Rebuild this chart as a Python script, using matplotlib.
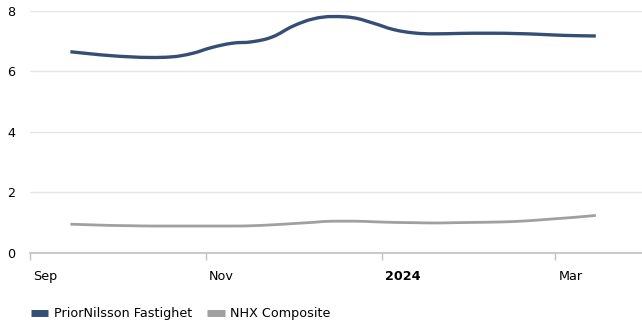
import datetime as dt

import matplotlib
matplotlib.use("Agg")
import matplotlib.pyplot as plt
import matplotlib.dates as mdates
import matplotlib.transforms as mtransforms
from matplotlib.path import Path
from matplotlib.patches import PathPatch
from matplotlib.lines import Line2D

# weekly observations
start = dt.date(2023, 9, 15)
dates = [start + dt.timedelta(days=7 * k) for k in range(27)]
prior_nilsson = [6.64, 6.57, 6.51, 6.47, 6.45, 6.47, 6.58, 6.78, 6.92, 6.97,
                 7.13, 7.48, 7.72, 7.80, 7.76, 7.58, 7.37, 7.26, 7.23, 7.24,
                 7.25, 7.25, 7.24, 7.22, 7.19, 7.17, 7.16]
nhx_composite = [0.95, 0.93, 0.91, 0.90, 0.89, 0.89, 0.89, 0.89, 0.89, 0.90,
                 0.93, 0.97, 1.01, 1.05, 1.05, 1.03, 1.01, 1.00, 0.99, 1.00,
                 1.01, 1.02, 1.04, 1.08, 1.13, 1.18, 1.24]

series_names = ["PriorNilsson Fastighet", "NHX Composite"]
series_colors = ["#344e74", "#a0a0a0"]

tick_dates = [dt.date(2023, 9, 1), dt.date(2023, 11, 1), dt.date(2024, 1, 1), dt.date(2024, 3, 1)]
tick_labels = ["Sep", "Nov", "2024", "Mar"]


def spline_path(xs, ys, smoothing=1.5):
    """Cubic bezier path through the points, with clamped control points."""
    denom = smoothing + 1
    n = len(xs)
    left = [(xs[i], ys[i]) for i in range(n)]
    right = [(xs[i], ys[i]) for i in range(n)]
    for i in range(1, n - 1):
        px, py = xs[i], ys[i]
        lx, ly = xs[i - 1], ys[i - 1]
        nx, ny = xs[i + 1], ys[i + 1]
        lcx = (smoothing * px + lx) / denom
        lcy = (smoothing * py + ly) / denom
        rcx = (smoothing * px + nx) / denom
        rcy = (smoothing * py + ny) / denom
        if rcx != lcx:
            corr = (rcy - lcy) * (rcx - px) / (rcx - lcx) + py - rcy
            lcy += corr
            rcy += corr
        if lcy > ly and lcy > py:
            lcy = max(ly, py)
            rcy = 2 * py - lcy
        elif lcy < ly and lcy < py:
            lcy = min(ly, py)
            rcy = 2 * py - lcy
        if rcy > ny and rcy > py:
            rcy = max(ny, py)
            lcy = 2 * py - rcy
        elif rcy < ny and rcy < py:
            rcy = min(ny, py)
            lcy = 2 * py - rcy
        left[i] = (lcx, lcy)
        right[i] = (rcx, rcy)
    verts = [(xs[0], ys[0])]
    codes = [Path.MOVETO]
    for i in range(1, n):
        verts += [right[i - 1], left[i], (xs[i], ys[i])]
        codes += [Path.CURVE4] * 3
    return Path(verts, codes)


plt.rcParams["font.family"] = "DejaVu Sans"

fig = plt.figure(figsize=(6.42, 3.27), dpi=100)
ax = fig.add_axes([30 / 642, 74 / 327, 612 / 642, 242.5 / 327])

x = list(mdates.date2num(dates))
for vals, color, lw in [(prior_nilsson, series_colors[0], 2.4), (nhx_composite, series_colors[1], 2.0)]:
    patch = PathPatch(spline_path(x, vals), facecolor="none", edgecolor=color,
                      linewidth=lw, capstyle="butt", joinstyle="round")
    ax.add_patch(patch)

ax.set_xlim(mdates.date2num(dt.date(2023, 9, 1)), mdates.date2num(dt.date(2024, 3, 31)))
ax.set_ylim(0, 8)
ax.set_yticks([0, 2, 4, 6, 8])
ax.grid(axis="y", color="#e6e6e6", linewidth=1)
ax.set_axisbelow(True)

for side in ["top", "right", "left"]:
    ax.spines[side].set_visible(False)
ax.spines["bottom"].set_color("#c0c0c0")
ax.spines["bottom"].set_linewidth(1.2)

ax.set_xticks(mdates.date2num(tick_dates))
ax.set_xticklabels(tick_labels)
ax.tick_params(axis="x", length=5, width=1, color="#c0c0c0", labelsize=9.2, pad=7)
ax.tick_params(axis="y", length=0, labelsize=9.2, pad=10.5)
offset = mtransforms.ScaledTranslation(3 / 100, 0, fig.dpi_scale_trans)
for lbl in ax.get_xticklabels():
    lbl.set_horizontalalignment("left")
    lbl.set_transform(lbl.get_transform() + offset)
    if lbl.get_text() == "2024":
        lbl.set_fontweight("bold")

handles = [Line2D([0], [0], color=c, linewidth=5, solid_capstyle="butt") for c in series_colors]
fig.legend(handles, series_names, loc="center left", bbox_to_anchor=(19 / 642, 13 / 327),
           ncol=2, frameon=False, fontsize=9.2, handlelength=1.4, handletextpad=0.4,
           columnspacing=1.2)

fig.savefig("out.png", dpi=100)
